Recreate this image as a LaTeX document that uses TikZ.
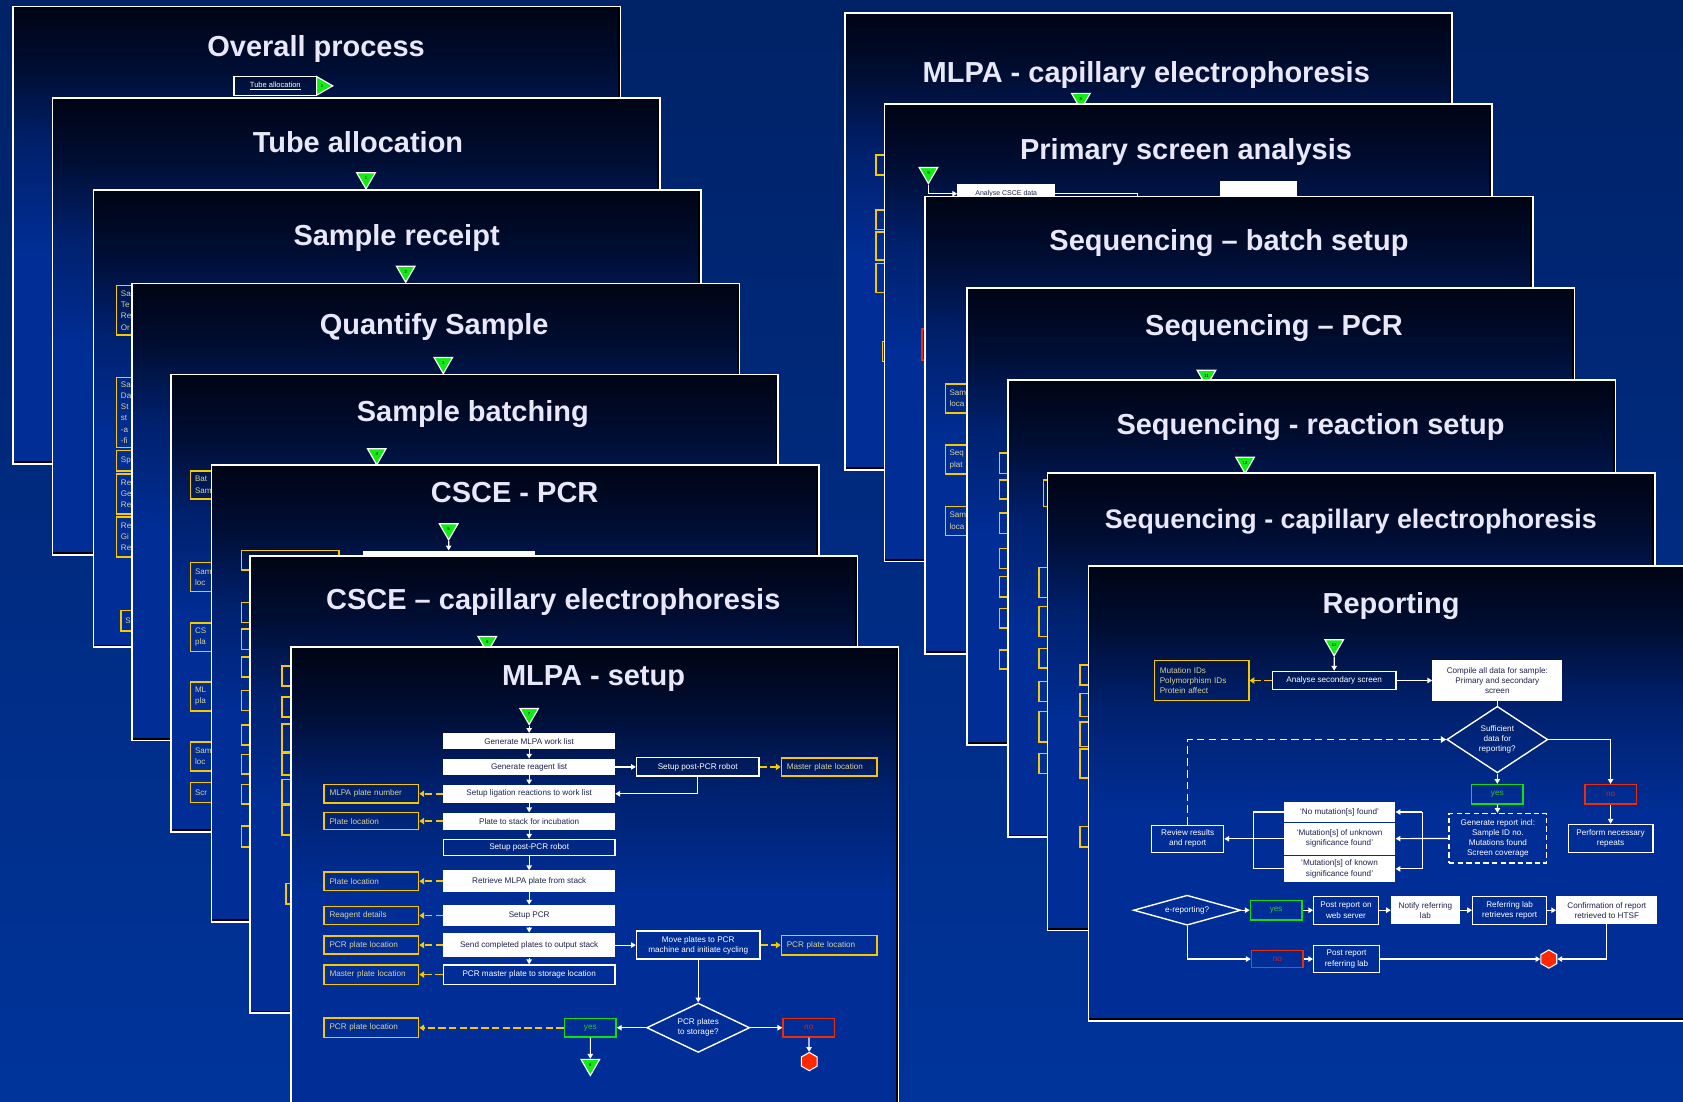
\documentclass[tikz,border=0pt]{standalone}
\usepackage{fontspec}
\setmainfont{Liberation Sans}
\usetikzlibrary{arrows.meta,shapes.geometric}

\definecolor{bgtop}{RGB}{0,34,102}
\definecolor{bgbot}{RGB}{0,52,155}
\definecolor{slidetop}{RGB}{0,4,20}
\definecolor{slidedark}{RGB}{0,14,52}
\definecolor{slidemid}{RGB}{0,32,108}
\definecolor{slideblue}{RGB}{0,46,150}
\definecolor{titlecol}{RGB}{232,232,250}
\definecolor{yline}{RGB}{245,200,0}
\definecolor{ytext}{RGB}{215,210,150}
\definecolor{gline}{RGB}{20,220,20}
\definecolor{gtext}{RGB}{60,190,60}
\definecolor{rline}{RGB}{235,45,10}
\definecolor{rtext}{RGB}{200,40,40}
\definecolor{boxtext}{RGB}{30,35,80}
\definecolor{markgreen}{RGB}{20,235,20}
\definecolor{stopred}{RGB}{255,40,0}

% visible part of a tikz shading runs from 25bp (bottom) to 75bp (top)
\pgfdeclareverticalshading{slideshade}{100bp}{color(0bp)=(slideblue); color(48bp)=(slideblue);
  color(60bp)=(slidemid); color(68bp)=(slidedark); color(75bp)=(slidetop); color(100bp)=(slidetop)}

\newcommand{\flowfont}{\fontsize{7.6}{9.4}\selectfont}
\newcommand{\fragfont}{\fontsize{7.5}{10.5}\selectfont}

\tikzset{
  slidebox/.style={shade, shading=slideshade, draw=white, line width=1.6pt,
    path picture={\draw[black, line width=5pt] (path picture bounding box.north east)
      -- (path picture bounding box.south east) -- (path picture bounding box.south west);}},
  slidetitle/.style={anchor=base, text=titlecol, font=\fontsize{27}{30}\selectfont\bfseries},
  wbox/.style={rectangle, fill=white, text=boxtext, font=\flowfont, align=center, inner sep=1pt},
  obox/.style={rectangle, draw=white, line width=1.2pt, text=white, font=\flowfont, align=center, inner sep=1pt},
  ybox/.style={rectangle, draw=yline, line width=1.4pt, text=ytext, font=\flowfont, align=left,
    text width=#1, inner xsep=5pt, inner ysep=1pt},
  ybox/.default=78pt,
  yesbox/.style={rectangle, draw=gline, line width=1.4pt, text=gtext, font=\flowfont, minimum width=48pt, minimum height=17pt},
  nobox/.style={rectangle, draw=rline, line width=1.4pt, text=rtext, font=\flowfont, minimum width=48pt, minimum height=17pt},
  decision/.style={diamond, draw=white, line width=1.3pt, text=white, font=\flowfont, align=center, inner sep=1pt},
  trimark/.style={regular polygon, regular polygon sides=3, shape border rotate=180, fill=markgreen, draw=white,
    line width=1.1pt, minimum size=20pt, inner sep=0pt, font=\fontsize{4}{4}\selectfont, text=black},
  stopmark/.style={regular polygon, regular polygon sides=6, shape border rotate=90, fill=stopred, draw=white,
    line width=1pt, minimum size=17pt, inner sep=0pt},
  flow/.style={draw=white, line width=1.1pt, -{Triangle[length=4.5pt,width=5pt]}},
  link/.style={draw=white, line width=1.1pt},
  yflow/.style={draw=yline, line width=1.6pt, dash pattern=on 7pt off 3pt, -{Triangle[length=4.5pt,width=6pt]}},
  dflow/.style={draw=white, line width=1.4pt, dash pattern=on 7pt off 4pt, -{Triangle[length=5pt,width=6pt]}},
  yfrag/.style={draw=yline, line width=1.4pt},
  yfragbox/.style={anchor=north west, draw=yline, line width=1.4pt, text=ytext, font=\fragfont, align=left,
    text width=80pt, inner xsep=4pt, inner ysep=2pt},
}

\begin{document}
\begin{tikzpicture}[x=1pt, y=-1pt]
  \useasboundingbox (0,0) rectangle (1568,1026);
  \fill[top color=bgtop, bottom color=bgbot] (0,0) rectangle (1568,1026);

  % left stack
  \path[slidebox] (12,6) rectangle ++(566,426);
  \node[slidetitle] (h1) at (294.5,53) {Overall process};
  \node[obox, font=\fontsize{7}{8}\selectfont, minimum width=77pt, minimum height=18pt] (ta) at (256.5,80) {\underline{Tube allocation}};
  \node[trimark, shape border rotate=-90] (mk0) at (300,80) {1};

  \path[slidebox] (49,91) rectangle ++(566,426);
  \node[slidetitle] (h2) at (333.5,142) {Tube allocation};
  \node[trimark] (mk1) at (341,166) {1};

  \path[slidebox] (87,177) rectangle ++(566,426);
  \node[slidetitle] (h3) at (369.5,229) {Sample receipt};
  \node[trimark] (mk2) at (378,253) {2};
  \node[yfragbox, minimum height=46pt] (fa1) at (108,265.5) {Sa\\Te\\Re\\Or};
  \node[yfragbox, minimum height=65pt] (fa2) at (108,351) {Sa\\Da\\St\\st\\-a\\-fi};
  \node[yfragbox, minimum height=19pt] (fa3) at (108,419) {Sp};
  \node[yfragbox, minimum height=37pt] (fa4) at (108,441) {Re\\Ge\\Re};
  \node[yfragbox, minimum height=37pt] (fa5) at (108,481) {Re\\Gi\\Re};
  \node[yfragbox, minimum height=19pt] (fa6) at (112,568) {S};

  \path[slidebox] (123,264) rectangle ++(566,426);
  \node[slidetitle] (h4) at (404.5,312) {Quantify Sample};
  \node[trimark] (mk3) at (413,338) {3};

  \path[slidebox] (159,349) rectangle ++(566,426);
  \node[slidetitle] (h5) at (440.5,393) {Sample batching};
  \node[trimark] (mk4) at (351,423) {4};
  \node[yfragbox, minimum height=26pt] (fb1) at (177,438) {Bat\\Sam};
  \node[yfragbox, minimum height=27pt] (fb2) at (177,523.5) {Sam\\loc};
  \node[yfragbox, minimum height=27pt] (fb3) at (177,579.5) {CS\\pla};
  \node[yfragbox, minimum height=27pt] (fb4) at (177,634.5) {ML\\pla};
  \node[yfragbox, minimum height=27pt] (fb5) at (177,690.5) {Sam\\loc};
  \node[yfragbox, minimum height=18.5pt] (fb6) at (177,728.5) {Scr};

  \path[slidebox] (197,433) rectangle ++(566,426);
  \node[slidetitle] (h6) at (479.5,468) {CSCE - PCR};
  \node[trimark] (mk5) at (418,493) {5};
  \node[wbox, minimum width=160pt, minimum height=17pt] (cb) at (418,521.5) {};
  \draw[flow] (mk5) -- (cb);
  \draw[yfrag] (225,513) rectangle (316,531);
  \foreach \a/\b in {561.5/580, 586/605, 612/630.5, 643.5/662, 675.5/694, 703/721, 731/749, 769.5/789}
    \draw[yfrag] (225,\a) rectangle (315,\b);

  \path[slidebox] (233,518) rectangle ++(566,426);
  \node[slidetitle] (h7) at (515.5,568) {CSCE – capillary electrophoresis};
  \node[trimark] (mk6) at (454,598) {6};
  \foreach \a/\b in {620.5/639, 649.5/668, 674.5/700.5, 702/722, 726/748.5, 750/778}
    \draw[yfrag] (262.5,\a) rectangle (352,\b);
  \draw[yfrag] (266.5,823) rectangle (356,842);

  % MLPA - setup
  \path[slidebox] (271,603) rectangle ++(566,426);
  \node[slidetitle] (h8) at (553,639) {MLPA - setup};
  \node[trimark] (mk7) at (493,665) {7};
  \node[wbox, minimum width=160pt, minimum height=15pt] (g1) at (493,690.5) {Generate MLPA work list};
  \node[wbox, minimum width=160pt, minimum height=15pt] (g2) at (493,714.5) {Generate reagent list};
  \node[obox, minimum width=114pt, minimum height=17pt] (r1) at (650,714.5) {Setup post-PCR robot};
  \node[ybox=79pt, minimum height=17pt] (y0) at (772.5,714.5) {Master plate location};
  \node[wbox, minimum width=160pt, minimum height=17pt] (l1) at (493,739.5) {Setup ligation reactions to work list};
  \node[ybox, minimum height=17pt] (y1) at (346,739.5) {MLPA plate number};
  \node[wbox, minimum width=160pt, minimum height=16pt] (p1) at (493,765) {Plate to stack for incubation};
  \node[ybox, minimum height=16pt] (y2) at (346,765) {Plate location};
  \node[obox, minimum width=160pt, minimum height=15pt] (r2) at (493,789.5) {Setup post-PCR robot};
  \node[wbox, minimum width=160pt, minimum height=20pt] (p2) at (493,821) {Retrieve MLPA plate from stack};
  \node[ybox, minimum height=17pt] (y3) at (346,821) {Plate location};
  \node[wbox, minimum width=160pt, minimum height=20pt] (p3) at (493,853) {Setup PCR};
  \node[ybox, minimum height=17pt] (y4) at (346,853) {Reagent details};
  \node[wbox, minimum width=160pt, minimum height=23pt] (p4) at (493,880.5) {Send completed plates to output stack};
  \node[ybox, minimum height=17pt] (y5) at (346,880.5) {PCR plate location};
  \node[obox, minimum width=115pt, minimum height=26pt] (mv) at (650.5,880.5) {Move plates to PCR\\machine and initiate cycling};
  \node[ybox=79pt, minimum height=18pt] (y6) at (772.5,880.5) {PCR plate location};
  \node[obox, minimum width=160pt, minimum height=18pt] (p5) at (493,908) {PCR master plate to storage location};
  \node[ybox, minimum height=18pt] (y7) at (346,908) {Master plate location};
  \node[decision, minimum width=96pt, minimum height=46pt, aspect=2] (d1) at (650.5,957.5) {PCR plates\\to storage?};
  \node[yesbox] (yes1) at (550,957.5) {yes};
  \node[ybox, minimum height=18pt] (y8) at (346,957.5) {PCR plate location};
  \node[nobox] (no1) at (753.5,957.5) {no};
  \node[trimark] (mk8) at (550,992) {8};
  \node[stopmark] (s1) at (754,989) {};

  \draw[flow] (mk7) -- (g1);
  \draw[flow] (g1) -- (g2);
  \draw[flow] (g2) -- (r1);
  \draw[yflow] (r1) -- (y0);
  \draw[flow] (r1) |- (l1);
  \draw[flow] (g2) -- (l1);
  \draw[flow] (l1) -- (p1);
  \draw[flow] (p1) -- (r2);
  \draw[flow] (r2) -- (p2);
  \draw[flow] (p2) -- (p3);
  \draw[flow] (p3) -- (p4);
  \draw[flow] (p4) -- (p5);
  \draw[yflow] (l1) -- (y1);
  \draw[yflow] (p1) -- (y2);
  \draw[yflow] (p2) -- (y3);
  \draw[yflow] (p3) -- (y4);
  \draw[yflow] (p4) -- (y5);
  \draw[yflow] (p5) -- (y7);
  \draw[flow] (p4) -- (mv);
  \draw[yflow] (mv) -- (y6);
  \draw[flow] (mv) -- (d1);
  \draw[flow] (d1) -- (yes1);
  \draw[flow] (d1) -- (no1);
  \draw[yflow] (yes1) -- (y8);
  \draw[flow] (yes1) -- (mk8);
  \draw[flow] (no1) -- (s1);

  % right stack
  \path[slidebox] (787,12) rectangle ++(566,426);
  \node[slidetitle] (k1) at (1068,77) {MLPA - capillary electrophoresis};
  \node[trimark] (mk9) at (1007,92) {8};
  \foreach \a/\b in {144.5/163, 195.5/214, 216/242, 245.5/272.5}
    \draw[yfrag] (816,\a) rectangle (906,\b);
  \draw[yfrag] (822,318) rectangle (912,337);

  \path[slidebox] (824,97) rectangle ++(566,426);
  \node[slidetitle] (k2) at (1105,149) {Primary screen analysis};
  \node[trimark] (mk10) at (865,161) {9};
  \node[wbox, font=\fontsize{6.5}{7}\selectfont, minimum width=91pt, minimum height=19pt] (ac) at (937.5,180.5) {Analyse CSCE data};
  \node[wbox, minimum width=71pt, minimum height=22pt] (cc) at (1172.5,180) {};
  \coordinate (acx) at (1060,192);
  \draw[flow] (mk10) |- (ac);
  \draw[link] (ac) -| (acx);
  \draw[draw=rline, line width=1.4pt] (859,306.5) rectangle (949,335.5);

  \path[slidebox] (862,183) rectangle ++(566,426);
  \node[slidetitle] (k3) at (1145,233) {Sequencing – batch setup};
  \node[yfragbox, minimum height=27pt] (fc1) at (880,357) {Sam\\loca};
  \node[yfragbox, minimum height=27pt] (fc2) at (880,414) {Seq\\plat};
  \node[yfragbox, minimum height=27pt] (fc3) at (880,471) {Sam\\loca};

  \path[slidebox] (901,268) rectangle ++(566,426);
  \node[slidetitle] (k4) at (1187,313) {Sequencing – PCR};
  \node[trimark] (mk11) at (1124,350) {11};
  \foreach \a/\b in {422/441, 447/465, 478/497, 511/529.5, 537/556, 567/585, 605.5/623.5}
    \draw[yfrag] (931,\a) rectangle (1021,\b);

  \path[slidebox] (939,354) rectangle ++(566,426);
  \node[slidetitle] (k5) at (1221,405) {Sequencing - reaction setup};
  \node[trimark] (mk12) at (1160,431) {12};
  \foreach \a/\b in {528.5/556.5, 565/593, 604/622.5, 635/653.5, 663/691.5, 702/720.5}
    \draw[yfrag] (968,\a) rectangle (1058,\b);
  \draw[yfrag] (972,447) rectangle (1062,472);

  \path[slidebox] (976,441) rectangle ++(566,426);
  \node[slidetitle, font=\fontsize{25}{28}\selectfont\bfseries] (k6) at (1258.5,492) {Sequencing - capillary electrophoresis};
  \foreach \a/\b in {619.5/638, 646/667.5, 672.5/695.5, 698/725, 770/789}
    \draw[yfrag] (1006,\a) rectangle (1096,\b);

  % Reporting
  \path[slidebox] (1014,527) rectangle ++(566,424);
  \node[slidetitle] (k7) at (1296,572) {Reporting};
  \node[trimark] (mk13) at (1243,601) {13};
  \node[obox, minimum width=115pt, minimum height=17pt] (an) at (1243,634) {Analyse secondary screen};
  \node[ybox, minimum height=37pt] (mu) at (1119.5,634) {Mutation IDs\\Polymorphism IDs\\Protein affect};
  \node[wbox, minimum width=121pt, minimum height=38pt] (cp) at (1395,634) {Compile all data for sample:\\Primary and secondary\\screen};
  \node[decision, minimum width=94pt, minimum height=62pt, aspect=1.5] (d2) at (1395,689) {Sufficient\\data for\\reporting?};
  \node[yesbox, minimum height=18pt] (yes2) at (1395,740) {yes};
  \node[nobox, minimum height=18pt] (no2) at (1500.5,740) {no};
  \node[obox, dash pattern=on 5pt off 3pt, line width=1.3pt, minimum width=91pt, minimum height=46pt] (gr) at (1395.5,781) {Generate report incl:\\Sample ID no.\\Mutations found\\Screen coverage};
  \node[obox, minimum width=79pt, minimum height=26pt] (pr) at (1500.5,781) {Perform necessary\\repeats};
  \node[wbox, minimum width=104pt, minimum height=19pt] (f1) at (1248,756.5) {`No mutation[s] found'};
  \node[wbox, minimum width=104pt, minimum height=30pt] (f2) at (1248,781.5) {`Mutation[s] of unknown\\significance found'};
  \node[wbox, minimum width=104pt, minimum height=24pt] (f3) at (1248,809.5) {`Mutation[s] of known\\significance found'};
  \node[obox, minimum width=67pt, minimum height=25pt] (rv) at (1106.5,781.5) {Review results\\and report};
  \node[decision, minimum width=100pt, minimum height=28pt, aspect=3.6] (d3) at (1106,848) {e-reporting?};
  \node[yesbox, minimum height=18pt] (yes3) at (1189,848) {yes};
  \node[obox, minimum width=60pt, minimum height=26pt] (pw) at (1254,848) {Post report on\\web server};
  \node[wbox, minimum width=64pt, minimum height=26pt] (nl) at (1328,848) {Notify referring\\lab};
  \node[obox, minimum width=69pt, minimum height=26pt] (rl) at (1406.5,848) {Referring lab\\retrieves report};
  \node[wbox, minimum width=94pt, minimum height=26pt] (cf) at (1497,848) {Confirmation of report\\retrieved to HTSF};
  \node[nobox, minimum height=16pt] (no3) at (1190,893.5) {no};
  \node[obox, minimum width=61pt, minimum height=25pt] (pl) at (1254.5,893.5) {Post report\\referring lab};
  \node[stopmark] (s2) at (1443,893.5) {};
  \coordinate (jr) at (1325,781.5);
  \coordinate (jl) at (1168,781.5);

  \draw[flow] (mk13) -- (an);
  \draw[yflow] (an) -- (mu);
  \draw[flow] (an) -- (cp);
  \draw[link] (cp) -- (d2);
  \draw[flow] (d2) -- (yes2);
  \draw[flow] (d2.east) -| (no2);
  \draw[flow] (yes2) -- (gr);
  \draw[flow] (no2) -- (pr);
  \draw[flow] (gr) -- (f2);
  \draw[link] (jr |- f1) -- (jr |- f3);
  \draw[flow] (jr |- f1) -- (f1);
  \draw[flow] (jr |- f3) -- (f3);
  \draw[link] (f1.west) -- (jl |- f1) -- (jl |- f3) -- (f3.west);
  \draw[flow] (f2) -- (rv);
  \draw[dflow] (rv) |- (d2);
  \draw[flow] (d3) -- (yes3);
  \draw[flow] (yes3) -- (pw);
  \draw[flow] (pw) -- (nl);
  \draw[flow] (nl) -- (rl);
  \draw[flow] (rl) -- (cf);
  \draw[flow] (d3) |- (no3);
  \draw[flow] (no3) -- (pl);
  \draw[flow] (pl) -- (s2);
  \draw[flow] (cf) |- (s2);
\end{tikzpicture}
\end{document}
